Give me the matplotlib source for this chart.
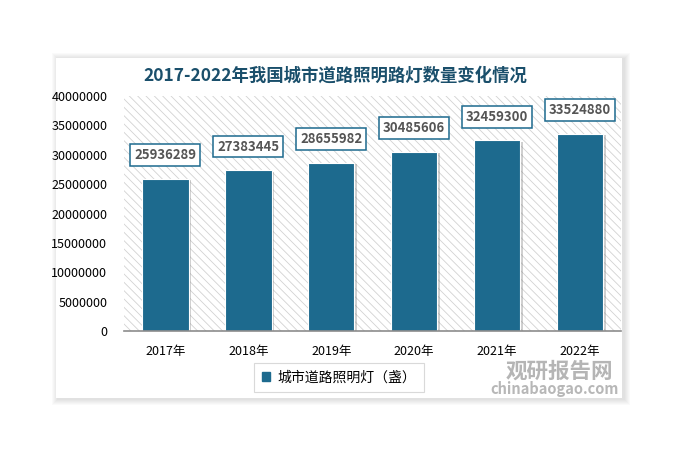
import matplotlib.pyplot as plt
import matplotlib.patheffects as pe
from matplotlib.patches import Rectangle

plt.rcParams['font.family'] = ['Noto Sans CJK SC', 'DejaVu Sans']
plt.rcParams['hatch.linewidth'] = 0.6

years = ['2017年', '2018年', '2019年', '2020年', '2021年', '2022年']
lamps = [25936289, 27383445, 28655982, 30485606, 32459300, 33524880]
series_name = '城市道路照明灯（盏）'
title = '2017-2022年我国城市道路照明路灯数量变化情况'

bar_color = '#1d6a8e'
title_color = '#1a4f6b'

fig = plt.figure(figsize=(6.85, 4.51), dpi=100)

# white panel with a soft shadow (stacked translucent rectangles)
px0, py0, pw, ph = 56, 53, 566, 340
for k in range(6, 0, -1):
    fig.patches.append(Rectangle((px0 - k + 2, py0 - k - 1), pw + 2 * k, ph + 2 * k,
                                 transform=None, facecolor='#000000', alpha=0.018,
                                 edgecolor='none', zorder=0))
fig.patches.append(Rectangle((px0, py0), pw, ph, transform=None, facecolor='white',
                             edgecolor='none', zorder=0.5))

ax = fig.add_axes([0.181, 0.266, 0.726, 0.521])
ax.set_zorder(2)
ax.set_facecolor('none')
ax.add_patch(Rectangle((0, 0), 1, 1, transform=ax.transAxes, facecolor='white',
                       edgecolor='#d2d2d2', hatch='\\\\\\\\', linewidth=0, zorder=0))

x = range(len(years))
bars = ax.bar(x, lamps, width=0.56, color=bar_color, edgecolor='white', linewidth=0.8, zorder=2)
for b in bars:
    b.set_path_effects([pe.SimplePatchShadow(offset=(2, -1), shadow_rgbFace='#777777', alpha=0.35), pe.Normal()])

for i, v in enumerate(lamps):
    ax.annotate(str(v), (i, v), xytext=(0, 12), textcoords='offset points', ha='center', va='bottom',
                fontsize=9.5, color='#555555', fontweight='bold', zorder=4,
                bbox=dict(boxstyle='square,pad=0.3', facecolor='white', edgecolor=bar_color, linewidth=1.1))

ax.set_xlim(-0.5, 5.5)
ax.set_ylim(0, 40000000)
ax.set_yticks(range(0, 40000001, 5000000))
ax.set_yticklabels([str(t) for t in range(0, 40000001, 5000000)], fontsize=9)
ax.set_xticks(list(x))
ax.set_xticklabels(years, fontsize=9)
ax.tick_params(axis='both', length=0, pad=10)
ax.tick_params(axis='y', pad=12)
for s in ['top', 'right', 'left']:
    ax.spines[s].set_visible(False)
ax.spines['bottom'].set_color('#8c8c8c')
ax.spines['bottom'].set_linewidth(1.2)

fig.text(0.49, 0.833, title, ha='center', va='center', fontsize=12.5, fontweight='bold',
         color=title_color, zorder=3)

leg = fig.legend([Rectangle((0, 0), 1, 1, color=bar_color)], [series_name], loc='center',
                 bbox_to_anchor=(0.495, 0.163), fontsize=10, frameon=True, fancybox=False,
                 handlelength=0.6, handleheight=0.6, borderpad=0.55, borderaxespad=0,
                 handletextpad=0.5)
leg.get_frame().set_edgecolor('#d0d0d0')
leg.get_frame().set_linewidth(0.8)
leg.set_zorder(3)

# watermark
fig.text(0.817, 0.177, '观研报告网', ha='center', va='center', fontsize=15.5, fontweight='bold',
         color='#a8a8a8', alpha=0.85, zorder=3)
fig.text(0.81, 0.137, 'chinabaogao.com', ha='center', va='center', fontsize=10.5, fontweight='bold',
         color='#ababab', alpha=0.85, zorder=3)

fig.savefig('out.png', dpi=100)
